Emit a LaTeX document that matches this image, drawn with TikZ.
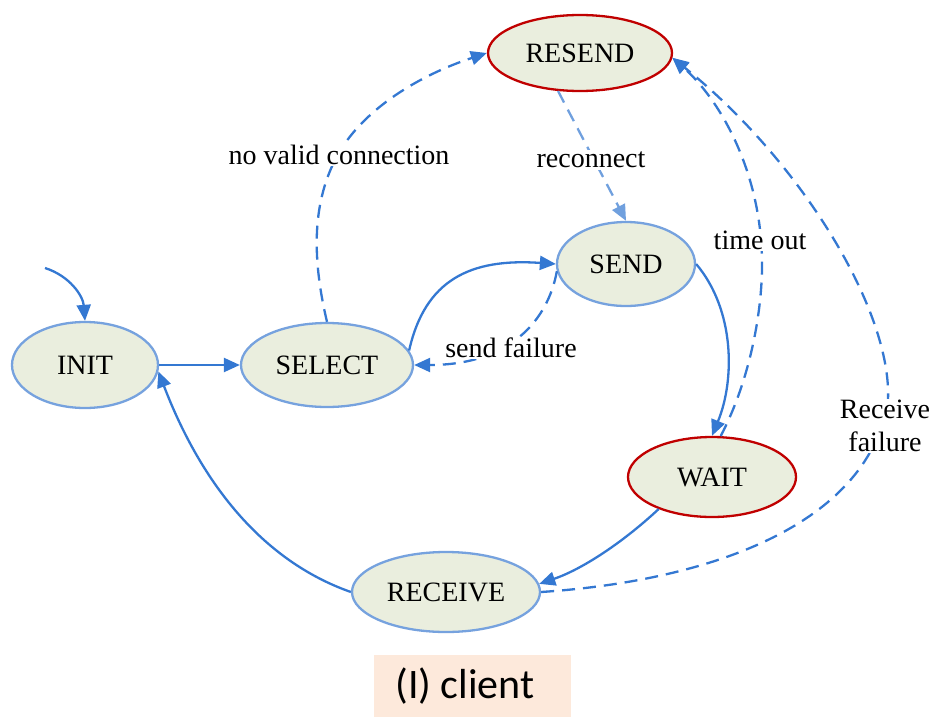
\documentclass[tikz,border=0pt]{standalone}
\usepackage{fontspec}
\setmainfont{Liberation Serif}
\newfontfamily\captionfont{Carlito}
\usetikzlibrary{shapes.geometric,arrows.meta}

\definecolor{statefill}{RGB}{234,238,222}
\definecolor{stateblue}{RGB}{118,162,222}
\definecolor{statered}{RGB}{192,0,0}
\definecolor{edgeblue}{RGB}{52,120,210}
\definecolor{edgelight}{RGB}{112,160,222}
\definecolor{captionbg}{RGB}{253,233,219}

\tikzset{
  state/.style={ellipse, draw=stateblue, line width=2.3pt, fill=statefill,
    inner sep=0pt, font=\fontsize{28}{30}\selectfont},
  redstate/.style={state, draw=statered},
  trans/.style={draw=edgeblue, line width=2.3pt,
    -{Triangle[length=16pt,width=14pt]}},
  fail/.style={trans, dash pattern=on 13pt off 8pt},
  edgelabel/.style={fill=white, inner sep=1.5pt, align=center,
    font=\fontsize{28}{33}\selectfont}
}

\begin{document}
\begin{tikzpicture}[x=1pt, y=-1pt]
  \useasboundingbox (0,0) rectangle (933,717);

  % caption
  \fill[captionbg] (374,655) rectangle (571,717);
  \node[font=\captionfont\fontsize{42}{45}\selectfont] (cap) at (465,686) {(I) client};

  % states
  \node[redstate, minimum width=184pt, minimum height=76pt] (RESEND) at (580,53) {RESEND};
  \node[state, minimum width=138pt, minimum height=84pt] (SEND) at (626,264) {SEND};
  \node[state, minimum width=146pt, minimum height=86pt] (INIT) at (85,365) {INIT};
  \node[state, minimum width=172pt, minimum height=84pt] (SELECT) at (327,365) {SELECT};
  \node[redstate, minimum width=168pt, minimum height=80pt] (WAIT) at (712,477) {WAIT};
  \node[state, minimum width=188pt, minimum height=80pt] (RECEIVE) at (446,592) {RECEIVE};

  % initial transition
  \coordinate (start) at (45,268);
  \draw[trans] (start) .. controls (70,276) and (83,296) .. (INIT.north);

  % normal transitions
  \draw[trans] (INIT.east) -- (SELECT.west);
  \draw[trans] (SELECT.10) .. controls (425,280) and (470,258) .. (SEND.west);
  \draw[trans] (SEND.east) .. controls (735,310) and (735,380) .. (WAIT.north);
  \draw[trans] (WAIT.211) .. controls (620,545) and (580,570) .. (RECEIVE.5);
  \draw[trans] (RECEIVE.west) .. controls (260,560) and (200,480) .. (INIT.-5);

  % failure transitions
  \draw[fail] (SEND.186) .. controls (548,320) and (510,365) .. (SELECT.east);
  \draw[fail] (SELECT.north) .. controls (310,250) and (315,200) .. (335,160)
              .. controls (360,110) and (420,75) .. (RESEND.west);
  \draw[fail, draw=edgelight] (RESEND.240) -- (SEND.north);
  \draw[fail] (WAIT.78) .. controls (750,380) and (763,310) .. (762,258)
              .. controls (760,170) and (720,100) .. (RESEND.-3);
  \draw[fail] (RECEIVE.east) .. controls (720,580) and (870,520) .. (888,400)
              .. controls (892,310) and (800,160) .. (RESEND.-3);

  % transition labels
  \node[edgelabel] (lnovalid) at (339,155) {no valid connection};
  \node[edgelabel] (lreconn) at (591,160) {reconnect};
  \node[edgelabel] (lsendf) at (511,348) {send failure};
  \node[edgelabel] (ltimeout) at (760,240) {time out};
  \node[edgelabel] (lrecvf) at (885,426) {Receive\\failure};
\end{tikzpicture}
\end{document}
